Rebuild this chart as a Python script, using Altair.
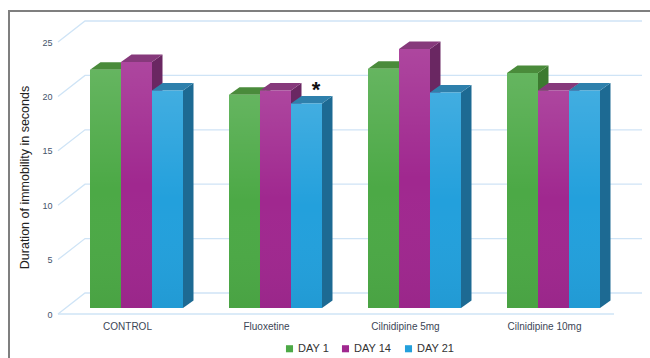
import altair as alt
import pandas as pd

# ---------------- data ----------------
categories = ["CONTROL", "Fluoxetine", "Cilnidipine 5mg", "Cilnidipine 10mg"]
days = ["DAY 1", "DAY 14", "DAY 21"]
day1 = [21.9, 19.6, 22.0, 21.6]
day14 = [22.6, 20.0, 23.8, 20.0]
day21 = [20.0, 18.8, 19.8, 20.0]
y_ticks = [0, 5, 10, 15, 20, 25]
marked = [("Fluoxetine", "DAY 21")]

# ---------------- styling / geometry ----------------
front_colors = ["#4CA946", "#A0288F", "#23A0DC"]
top_colors = ["#4A8B3B", "#86397B", "#2E80AC"]
side_colors = ["#3C7A30", "#6A2762", "#1D6A93"]
grid_color = "#CFE4F6"
FONT = "Liberation Sans"

W, H = 584, 300
PX_X, PX_Y = 139.0, 10.88
XMAX, YMAX = W / PX_X, H / PX_Y
BW = 31 / PX_X
DX0, DY0 = 9 / PX_X, 6 / PX_Y          # bars sit slightly back from the floor front
DXB, DYB = 10.5 / PX_X, 7.5 / PX_Y     # bar depth
DXW, DYW = 27 / PX_X, 21 / PX_Y        # back wall depth

series = [day1, day14, day21]

bars, tops, sides = [], [], []
for ci, cat in enumerate(categories):
    for di, day in enumerate(days):
        v = series[di][ci]
        x0 = ci + 0.5 - 1.5 * BW + di * BW + DX0
        x1 = x0 + BW
        b = DY0
        t = b + v
        bid = f"b{ci}{di}"
        bars.append(dict(cat=cat, day=day, value=v, x0=x0, x1=x1, b=b, top=t))
        for (x, hi, lo) in [(x0, t, t), (x0 + DXB, t + DYB, t),
                            (x1, t + DYB, t), (x1 + DXB, t + DYB, t + DYB)]:
            tops.append(dict(bid=bid, day=day, px=x, hi=hi, lo=lo))
        for (x, hi, lo) in [(x1, t, b), (x1 + DXB, t + DYB, b + DYB)]:
            sides.append(dict(bid=bid, day=day, px=x, hi=hi, lo=lo))

bars_df = pd.DataFrame(bars)
tops_df = pd.DataFrame(tops)
sides_df = pd.DataFrame(sides)

grid_rows = []
for t in y_ticks:
    for s, (x, y) in enumerate([(0, t), (DXW, t + DYW), (XMAX, t + DYW)]):
        grid_rows.append(dict(tick=str(t), x=x, y=y, seq=s))
for s, x in enumerate([0, len(categories)]):
    grid_rows.append(dict(tick="front", x=x, y=0, seq=s))
grid_df = pd.DataFrame(grid_rows)

labels_df = pd.DataFrame(dict(cat=categories, x=[i + 0.5 for i in range(len(categories))], y=[0] * len(categories)))

star_rows = []
for cat, day in marked:
    r = bars_df[(bars_df.cat == cat) & (bars_df.day == day)].iloc[0]
    star_rows.append(dict(x=r.x1, y=r.top, s="*"))
star_df = pd.DataFrame(star_rows)

xs = alt.Scale(domain=[0, XMAX], nice=False, zero=False)
ys = alt.Scale(domain=[0, YMAX], nice=False, zero=False)
yaxis = alt.Axis(values=y_ticks, grid=False, ticks=False, domain=False, labelPadding=6,
                 labelFontSize=9, labelColor="#44546A", labelFont=FONT,
                 title="Duration of immobility in seconds", titleFont=FONT, titleFontSize=12.5,
                 titleFontWeight="normal", titleColor="#222222", titleX=-27, titleY=163,
                 titleBaseline="bottom")


def face_layers(df, colors):
    layers = []
    for day, col in zip(days, colors):
        sub = df[df.day == day].reset_index(drop=True)
        layers.append(
            alt.Chart(sub).mark_area(color=col, opacity=1).encode(
                x=alt.X("px:Q", scale=xs, axis=None),
                y=alt.Y("hi:Q", scale=ys, axis=yaxis, stack=None),
                y2=alt.Y2("lo:Q"),
                detail="bid:N",
            )
        )
    return layers


grid = alt.Chart(grid_df).mark_line(color=grid_color, strokeWidth=1.3).encode(
    x=alt.X("x:Q", scale=xs, axis=None),
    y=alt.Y("y:Q", scale=ys, axis=yaxis),
    detail="tick:N",
    order="seq:Q",
)

front = alt.Chart(bars_df).mark_rect().encode(
    x=alt.X("x0:Q", scale=xs, axis=None),
    x2="x1:Q",
    y=alt.Y("b:Q", scale=ys, axis=yaxis),
    y2="top:Q",
    color=alt.Color("day:N", scale=alt.Scale(domain=days, range=front_colors),
                    legend=alt.Legend(title=None, orient="none", direction="horizontal",
                                      legendX=226, legendY=329, symbolType="square",
                                      symbolSize=50, symbolStrokeWidth=0, labelFontSize=11,
                                      labelFont=FONT, labelColor="#333333", labelOffset=3,
                                      columnPadding=11)),
)

shade = alt.Chart(bars_df).mark_rect(
    fill=alt.Gradient(gradient="linear", x1=0, x2=0, y1=0, y2=1,
                      stops=[alt.GradientStop(color="rgba(255,255,255,0.14)", offset=0),
                             alt.GradientStop(color="rgba(255,255,255,0)", offset=0.5),
                             alt.GradientStop(color="rgba(0,0,0,0.04)", offset=1)])
).encode(
    x=alt.X("x0:Q", scale=xs, axis=None),
    x2="x1:Q",
    y=alt.Y("b:Q", scale=ys, axis=yaxis),
    y2="top:Q",
)

cat_labels = alt.Chart(labels_df).mark_text(fontSize=10, font=FONT, color="#3B4656", dy=13,
                                            baseline="middle").encode(
    x=alt.X("x:Q", scale=xs, axis=None),
    y=alt.Y("y:Q", scale=ys, axis=yaxis),
    text="cat:N",
)

star = alt.Chart(star_df).mark_text(fontSize=22, font=FONT, fontWeight="bold", color="#111111",
                                    dx=-6, dy=-13, baseline="middle").encode(
    x=alt.X("x:Q", scale=xs, axis=None),
    y=alt.Y("y:Q", scale=ys, axis=yaxis),
    text="s:N",
)

frame_left = alt.Chart(labels_df).mark_rule(color="#7F7F7F", strokeWidth=2).encode(
    x=alt.value(-49), y=alt.value(-3), y2=alt.value(H + 50))
frame_top = alt.Chart(labels_df).mark_rule(color="#7F7F7F", strokeWidth=2).encode(
    x=alt.value(-50), x2=alt.value(W + 10), y=alt.value(-3))

chart = alt.layer(frame_left, frame_top, grid, *face_layers(sides_df, side_colors),
                  *face_layers(tops_df, top_colors), front, shade,
                  cat_labels, star).properties(
    width=W, height=H,
    autosize=alt.AutoSizeParams(type="none"),
    padding={"left": 58, "top": 14, "right": 8, "bottom": 44},
    background="white",
).configure_view(stroke=None)

chart.save("out.html", embed_options={"renderer": "svg", "actions": False})
